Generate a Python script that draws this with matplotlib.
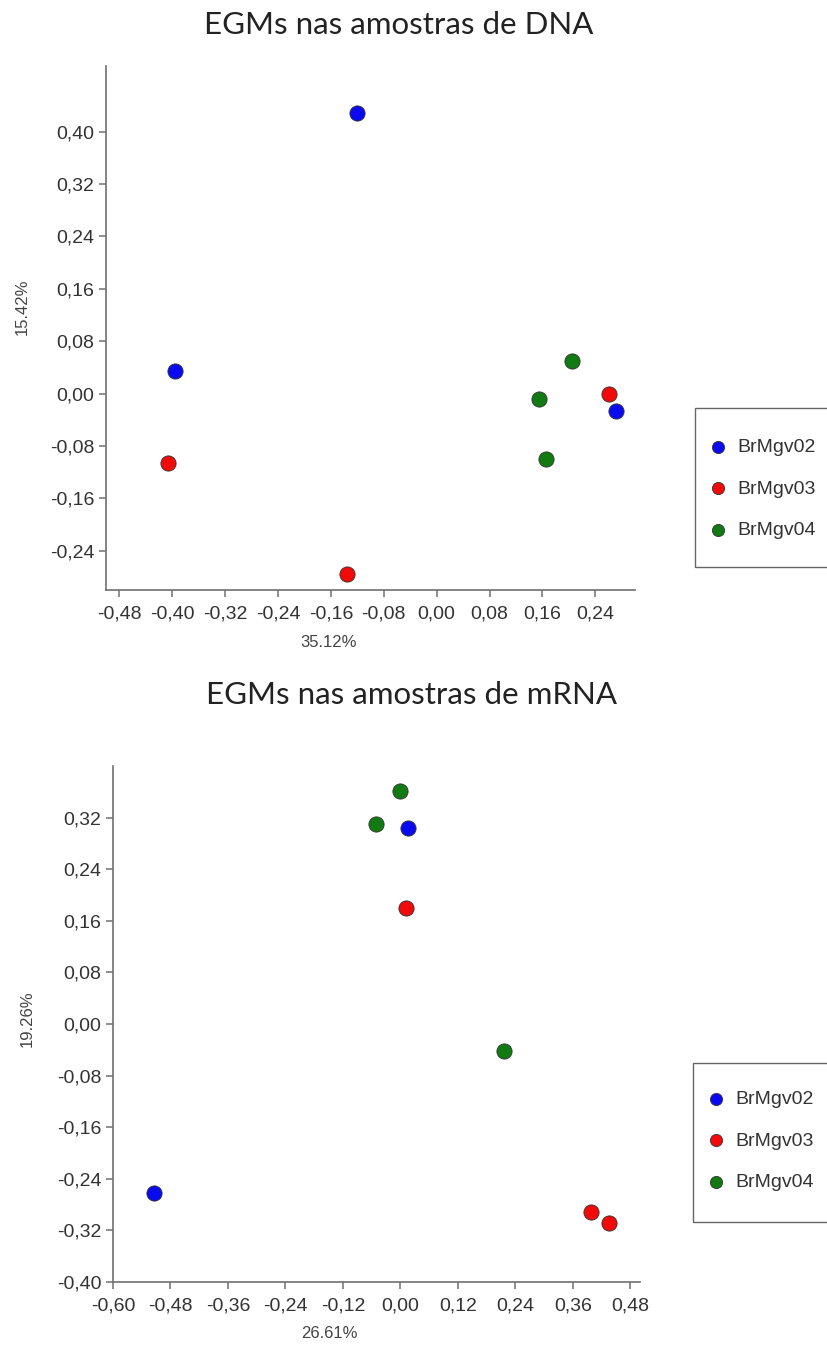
import matplotlib
matplotlib.use("Agg")
import matplotlib.pyplot as plt
from matplotlib.patches import Rectangle

# grupos
groups = ["BrMgv02", "BrMgv03", "BrMgv04"]
colors = ["#0a0af0", "#f00a0a", "#127a12"]

# DNA (PCoA)
dna_x = {
    "BrMgv02": [-0.121, -0.396, 0.272],
    "BrMgv03": [-0.406, -0.135, 0.260],
    "BrMgv04": [0.205, 0.155, 0.166],
}
dna_y = {
    "BrMgv02": [0.429, 0.034, -0.027],
    "BrMgv03": [-0.106, -0.275, -0.001],
    "BrMgv04": [0.049, -0.009, -0.100],
}
dna_xticks = [-0.48, -0.40, -0.32, -0.24, -0.16, -0.08, 0.00, 0.08, 0.16, 0.24]
dna_yticks = [-0.24, -0.16, -0.08, 0.00, 0.08, 0.16, 0.24, 0.32, 0.40]

# mRNA (PCoA)
rna_x = {
    "BrMgv02": [-0.514, 0.015],
    "BrMgv03": [0.011, 0.398, 0.436],
    "BrMgv04": [0.000, -0.052, 0.216],
}
rna_y = {
    "BrMgv02": [-0.262, 0.304],
    "BrMgv03": [0.180, -0.291, -0.309],
    "BrMgv04": [0.361, 0.310, -0.042],
}
rna_xticks = [-0.60, -0.48, -0.36, -0.24, -0.12, 0.00, 0.12, 0.24, 0.36, 0.48]
rna_yticks = [-0.40, -0.32, -0.24, -0.16, -0.08, 0.00, 0.08, 0.16, 0.24, 0.32]

plt.rcParams['font.family'] = ['Liberation Sans', 'DejaVu Sans']

fig = plt.figure(figsize=(8.27, 13.5), dpi=100)


def fmt(v):
    return ("%.2f" % v).replace(".", ",")


def panel(rect, xs, ys, xticks, yticks, xlim, ylim, xlab, ylab, xlab_x, ylab_xy, title, title_xy, leg_xy, box):
    ax = fig.add_axes(rect)
    for g, c in zip(groups, colors):
        ax.scatter(xs[g], ys[g], s=120, color=c, edgecolors="#333333", linewidths=0.6, label=g, zorder=3)
    ax.set_xlim(xlim)
    ax.set_ylim(ylim)
    ax.set_xticks(xticks)
    ax.set_xticklabels([fmt(v) for v in xticks])
    ax.set_yticks(yticks)
    ax.set_yticklabels([fmt(v) for v in yticks])
    for s in ["top", "right"]:
        ax.spines[s].set_visible(False)
    for s in ["left", "bottom"]:
        ax.spines[s].set_color("#707070")
        ax.spines[s].set_linewidth(1.2)
    ax.tick_params(colors="#707070", labelcolor="#333333", labelsize=14, length=5, width=1.1)
    ax.tick_params(axis="x", pad=6)
    ax.set_xlabel(xlab, fontsize=12, color="#444444")
    ax.set_ylabel(ylab, fontsize=12, color="#444444")
    ax.xaxis.set_label_coords(xlab_x, -0.085)
    ax.yaxis.set_label_coords(*ylab_xy)
    fig.text(title_xy[0], title_xy[1], title, ha="center", va="center", fontsize=22.5,
             family=["Lato", "DejaVu Sans"], color="#222222")
    # caixa da legenda
    fig.add_artist(Rectangle((box[0], box[1]), box[2], box[3], transform=fig.transFigure,
                             fill=False, edgecolor="#666666", linewidth=1.0))
    leg = ax.legend(loc="upper left", bbox_to_anchor=leg_xy, bbox_transform=fig.transFigure,
                    frameon=False, fontsize=14, borderpad=0, borderaxespad=0, handlelength=0.9,
                    handletextpad=0.55, labelspacing=1.25, markerscale=0.8)
    for t in leg.get_texts():
        t.set_color("#333333")
    return ax


W, H = 827.0, 1350.0

panel([106 / W, 1 - 590 / H, 529 / W, 524 / H], dna_x, dna_y, dna_xticks, dna_yticks,
      (-0.50, 0.30), (-0.30, 0.50), "35.12%", "15.42%", 0.42, (-0.145, 0.54),
      "EGMs nas amostras de DNA", (399 / W, 1 - 25 / H),
      (709 / W, 1 - 438 / H), (695 / W, 1 - 567 / H, 150 / W, 159 / H))

panel([113 / W, 1 - 1282 / H, 527 / W, 516 / H], rna_x, rna_y, rna_xticks, rna_yticks,
      (-0.60, 0.50), (-0.40, 0.40), "26.61%", "19.26%", 0.41, (-0.148, 0.51),
      "EGMs nas amostras de mRNA", (411 / W, 1 - 695 / H),
      (707 / W, 1 - 1090 / H), (693 / W, 1 - 1222 / H, 150 / W, 159 / H))

fig.savefig("out.png", dpi=100)
